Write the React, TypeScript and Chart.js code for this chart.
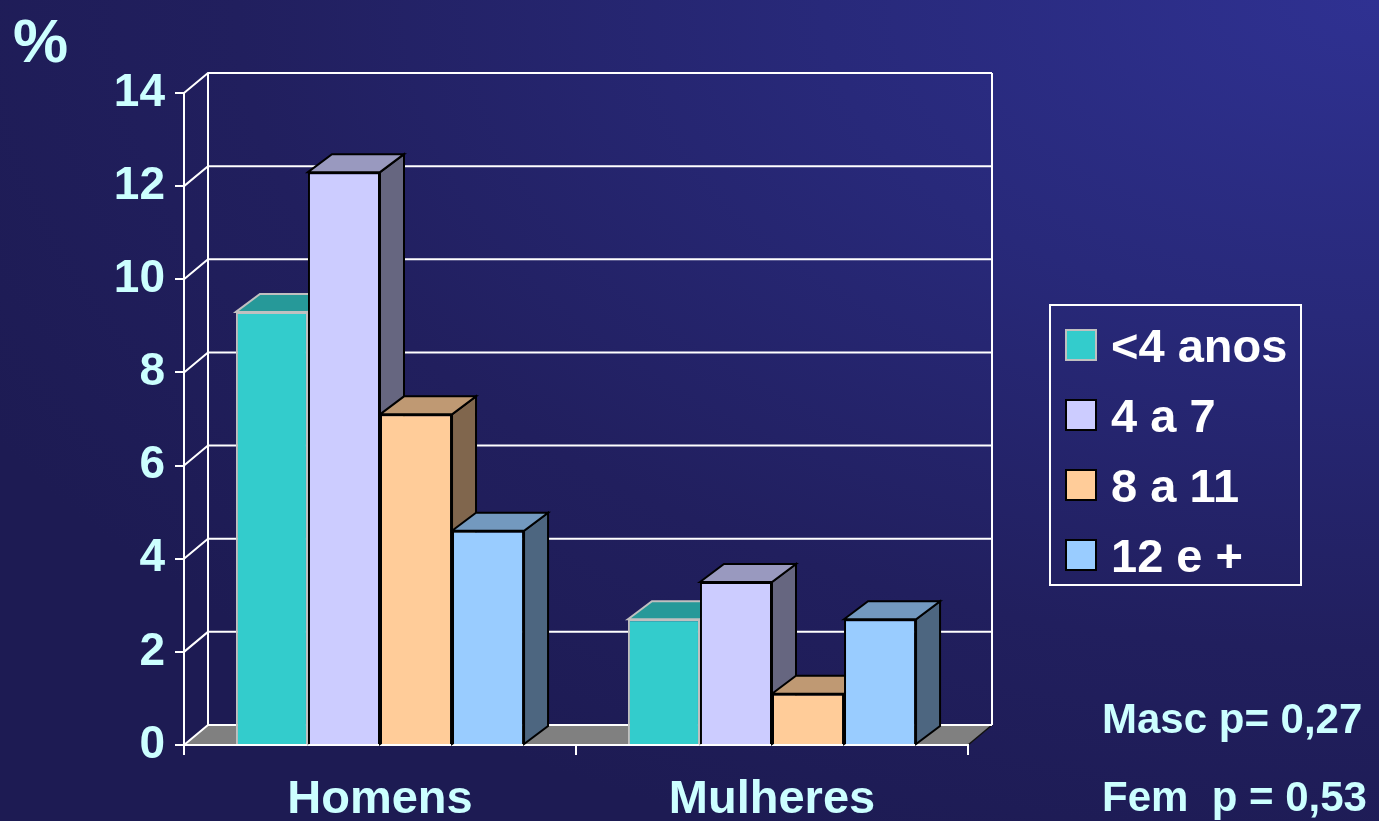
import React, { useEffect, useRef } from 'react';
import { Chart, registerables } from 'chart.js';

Chart.register(...registerables);

// ---- data ----
const categories = ['Homens', 'Mulheres'];
const seriesLabels = ['<4 anos', '4 a 7', '8 a 11', '12 e +'];
const seriesLt4 = [9.3, 2.7];
const series4to7 = [12.3, 3.5];
const series8to11 = [7.1, 1.1];
const series12plus = [4.6, 2.7];
const yTickValues = [0, 2, 4, 6, 8, 10, 12, 14];
const yUnit = '%';
const notes = ['Masc p= 0,27', 'Fem\u00a0 p = 0,53'];

// ---- styles ----
const FONT = '"Liberation Sans", Arial, Helvetica, sans-serif';
const frontColors = ['#33cccc', '#ccccff', '#ffcc99', '#99ccff'];
const topColors = ['#269999', '#9999bf', '#bf9973', '#7399bf'];
const sideColors = ['#1a6666', '#666680', '#80664d', '#4d6680'];
const edgeColors = ['#c0c0c0', '#000000', '#000000', '#000000'];
const DX = 24;
const BAR_DY = -18;
const WALL_DY = -20;

const wallPlugin = {
  id: 'wall3d',
  beforeDraw(chart: any) {
    const { ctx, chartArea: a } = chart;
    const y = chart.scales.y;
    const y0 = y.getPixelForValue(0);
    ctx.save();
    // floor
    ctx.fillStyle = '#808080';
    ctx.beginPath();
    ctx.moveTo(a.left, y0);
    ctx.lineTo(a.right, y0);
    ctx.lineTo(a.right + DX, y0 + WALL_DY);
    ctx.lineTo(a.left + DX, y0 + WALL_DY);
    ctx.closePath();
    ctx.fill();
    ctx.strokeStyle = '#111';
    ctx.lineWidth = 1.5;
    ctx.beginPath();
    ctx.moveTo(a.right, y0);
    ctx.lineTo(a.right + DX, y0 + WALL_DY);
    ctx.stroke();
    // walls
    ctx.strokeStyle = '#ffffff';
    ctx.lineWidth = 2;
    for (const v of yTickValues) {
      const py = y.getPixelForValue(v);
      ctx.beginPath();
      ctx.moveTo(a.left, py);
      ctx.lineTo(a.left + DX, py + WALL_DY);
      ctx.lineTo(a.right + DX, py + WALL_DY);
      ctx.stroke();
    }
    const top = y.getPixelForValue(yTickValues[yTickValues.length - 1]) + WALL_DY;
    const bot = y0 + WALL_DY;
    ctx.beginPath();
    ctx.moveTo(a.left + DX, top);
    ctx.lineTo(a.left + DX, bot);
    ctx.moveTo(a.right + DX, top);
    ctx.lineTo(a.right + DX, bot);
    ctx.stroke();
    ctx.restore();
  },
};

const bars3dPlugin = {
  id: 'bars3d',
  beforeDatasetsDraw(chart: any) {
    const ctx = chart.ctx;
    ctx.save();
    ctx.lineWidth = 2;
    ctx.lineJoin = 'miter';
    chart.data.datasets.forEach((_ds: any, i: number) => {
      const meta = chart.getDatasetMeta(i);
      meta.data.forEach((el: any) => {
        const { x, y, base, width } = el.getProps(['x', 'y', 'base', 'width'], true);
        const l = x - width / 2;
        const r = x + width / 2;
        ctx.strokeStyle = edgeColors[i];
        // side face
        ctx.fillStyle = sideColors[i];
        ctx.beginPath();
        ctx.moveTo(r, y);
        ctx.lineTo(r + DX, y + BAR_DY);
        ctx.lineTo(r + DX, base + BAR_DY);
        ctx.lineTo(r, base);
        ctx.closePath();
        ctx.fill();
        ctx.stroke();
        // top face
        ctx.fillStyle = topColors[i];
        ctx.beginPath();
        ctx.moveTo(l, y);
        ctx.lineTo(l + DX, y + BAR_DY);
        ctx.lineTo(r + DX, y + BAR_DY);
        ctx.lineTo(r, y);
        ctx.closePath();
        ctx.fill();
        ctx.stroke();
      });
    });
    ctx.restore();
  },
};

const legendPlugin = {
  id: 'boxLegend',
  afterDraw(chart: any) {
    const ctx = chart.ctx;
    ctx.save();
    ctx.strokeStyle = '#ffffff';
    ctx.lineWidth = 2;
    ctx.strokeRect(1050, 305, 251, 280);
    ctx.font = `bold 47px ${FONT}`;
    ctx.textBaseline = 'middle';
    ctx.textAlign = 'left';
    chart.data.datasets.forEach((ds: any, i: number) => {
      const cy = 345 + i * 70;
      ctx.fillStyle = ds.backgroundColor;
      ctx.fillRect(1066, cy - 15, 30, 30);
      ctx.strokeStyle = ds.borderColor;
      ctx.lineWidth = 2;
      ctx.strokeRect(1066, cy - 15, 30, 30);
      ctx.fillStyle = '#ffffff';
      ctx.fillText(ds.label, 1111, cy + 4);
    });
    ctx.restore();
  },
};

export default function App() {
  const ref = useRef<HTMLCanvasElement>(null);

  useEffect(() => {
    const values = [seriesLt4, series4to7, series8to11, series12plus];
    const chart = new Chart(ref.current as HTMLCanvasElement, {
      type: 'bar',
      data: {
        labels: categories,
        datasets: seriesLabels.map((label, i) => ({
          label,
          data: values[i],
          backgroundColor: frontColors[i],
          borderColor: edgeColors[i],
          borderWidth: 2,
          categoryPercentage: 0.735,
          barPercentage: 1,
        })),
      },
      options: {
        responsive: false,
        animation: false,
        events: [],
        layout: { padding: { left: 0, top: 93, right: 411, bottom: 0 } },
        plugins: {
          legend: { display: false },
          tooltip: { enabled: false },
          title: { display: false },
        },
        scales: {
          x: {
            type: 'category',
            offset: true,
            afterFit: (axis: any) => {
              axis.height = 76;
            },
            grid: {
              offset: true,
              drawOnChartArea: false,
              drawTicks: true,
              tickLength: 10,
              tickWidth: 2,
              tickColor: '#ffffff',
              color: '#ffffff',
              lineWidth: 2,
            },
            border: { display: true, color: '#ffffff', width: 2 },
            ticks: {
              color: '#ccffff',
              font: { family: FONT, size: 47, weight: 'bold' },
              padding: 17,
              maxRotation: 0,
              autoSkip: false,
            },
          },
          y: {
            type: 'linear',
            min: 0,
            max: 14,
            afterFit: (axis: any) => {
              axis.width = 184;
            },
            afterBuildTicks: (axis: any) => {
              axis.ticks = yTickValues.map((v) => ({ value: v }));
            },
            grid: {
              drawOnChartArea: false,
              drawTicks: true,
              tickLength: 9,
              tickWidth: 2,
              tickColor: '#ffffff',
              color: '#ffffff',
              lineWidth: 2,
            },
            border: { display: true, color: '#ffffff', width: 2 },
            ticks: {
              color: '#ccffff',
              font: { family: FONT, size: 46, weight: 'bold' },
              padding: 10,
              maxRotation: 0,
            },
          },
        },
      },
      plugins: [wallPlugin, bars3dPlugin, legendPlugin],
    } as any);
    return () => chart.destroy();
  }, []);

  const textStyle = (size: number): React.CSSProperties => ({
    position: 'absolute',
    fontFamily: FONT,
    fontWeight: 'bold',
    fontSize: size,
    lineHeight: `${size}px`,
    color: '#ccffff',
    whiteSpace: 'pre',
  });

  return (
    <div
      style={{
        position: 'absolute',
        left: 0,
        top: 0,
        width: 1379,
        height: 821,
        overflow: 'hidden',
        background:
          'radial-gradient(ellipse 115% 110% at 100% 0%, #2f3192 0%, #28297a 35%, #211f5e 72%, #1d1b53 100%)',
      }}
    >
      <canvas
        ref={ref}
        width={1379}
        height={821}
        style={{ position: 'absolute', left: 0, top: 0, width: 1379, height: 821 }}
      />
      <div style={{ ...textStyle(62), left: 13, top: 10 }}>{yUnit}</div>
      <div style={{ ...textStyle(42), left: 1102, top: 698 }}>{notes[0]}</div>
      <div style={{ ...textStyle(42), left: 1102, top: 776 }}>{notes[1]}</div>
    </div>
  );
}
